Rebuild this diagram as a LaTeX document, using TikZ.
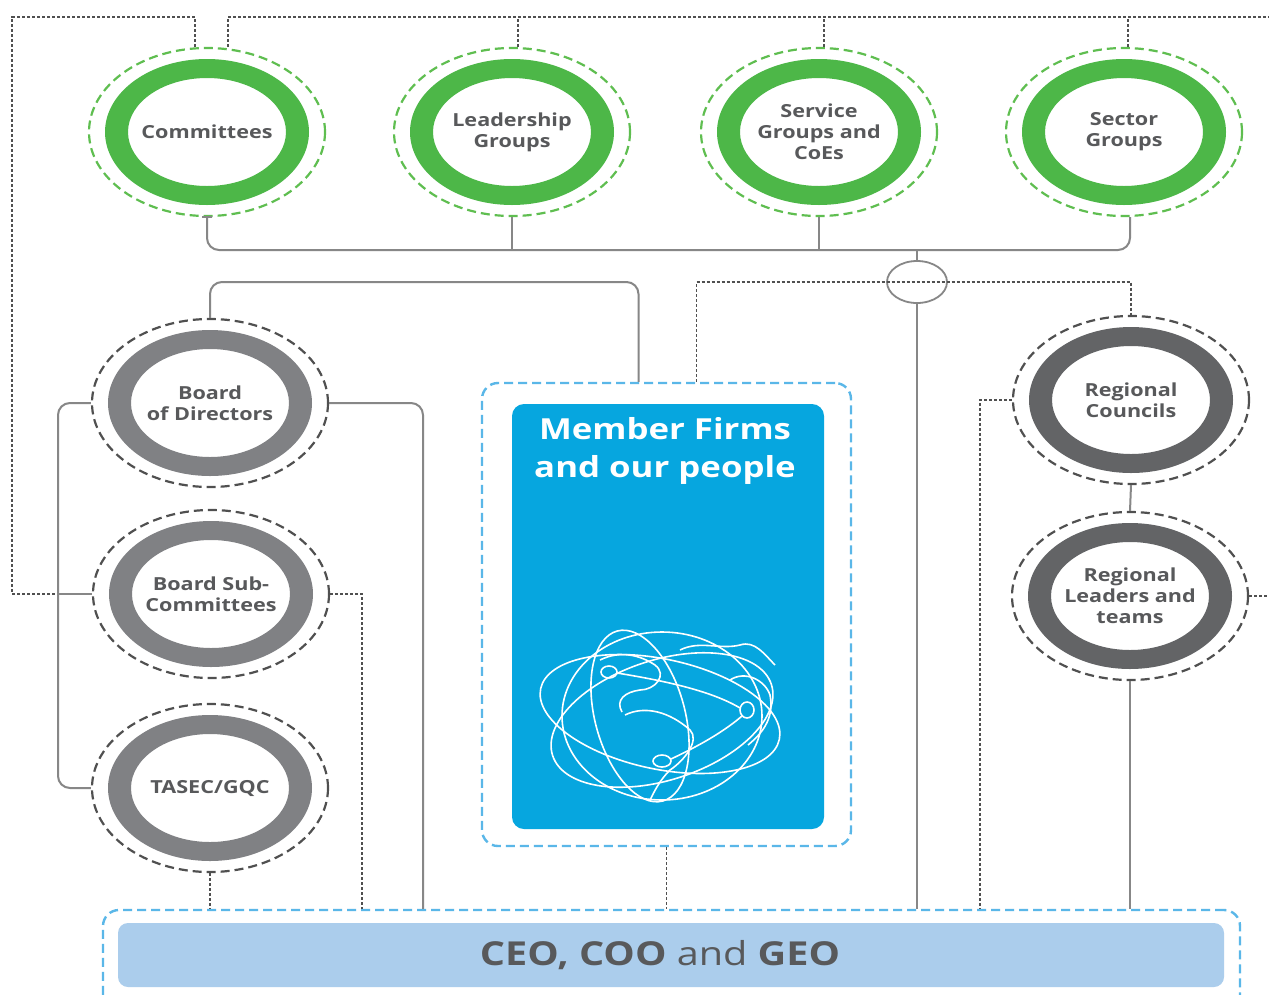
\documentclass[tikz,border=0pt]{standalone}
\usepackage{fontspec}
\setmainfont{Open Sans}[FakeStretch=1.2]
\usetikzlibrary{shapes.geometric,calc}
\definecolor{ringgreen}{RGB}{77,183,72}
\definecolor{dashgreen}{RGB}{95,190,80}
\definecolor{boardgray}{RGB}{128,129,132}
\definecolor{reggray}{RGB}{99,100,102}
\definecolor{txtgray}{RGB}{88,89,91}
\definecolor{linegray}{RGB}{135,135,135}
\definecolor{dashgray}{RGB}{80,80,80}
\definecolor{mfblue}{RGB}{6,166,223}
\definecolor{boxdash}{RGB}{90,183,232}
\definecolor{ceoblue}{RGB}{171,205,236}
\newcommand{\ringnode}[6]{%
  \fill[#4,even odd rule] (#2,#3) ellipse [x radius=102pt,y radius=73pt] (#2,#3) ellipse [x radius=79pt,y radius=54pt];
  \node[outerring,draw=#5] (#1) at (#2,#3) {};
  \node[ringlabel] (#1-t) at (#2,#3) {#6};
}
\begin{document}
\begin{tikzpicture}[x=1pt,y=-1pt,
  conn/.style={draw=linegray,line width=2pt},
  thindash/.style={draw=dashgray,line width=1.6pt,dash pattern=on 3pt off 2pt},
  outerring/.style={ellipse,minimum width=236pt,minimum height=168pt,inner sep=0pt,line width=2.2pt,dash pattern=on 9pt off 5pt},
  ringlabel/.style={text=txtgray,font=\fontsize{18}{21}\selectfont\bfseries,align=center,inner sep=0pt},
  bluedash/.style={draw=boxdash,line width=2.4pt,dash pattern=on 9pt off 5pt,rounded corners=16pt,rectangle,inner sep=0pt},
  globe/.style={draw=white,line width=1.6pt}
]
\useasboundingbox (0,0) rectangle (1269,994);
\fill[white] (0,0) rectangle (1269,994);

% rings
\ringnode{comm}{207}{132}{ringgreen}{dashgreen}{Committees}
\ringnode{lead}{512}{132}{ringgreen}{dashgreen}{Leadership\\Groups}
\ringnode{serv}{819}{132}{ringgreen}{dashgreen}{Service\\Groups and\\CoEs}
\ringnode{sect}{1124}{132}{ringgreen}{dashgreen}{Sector\\Groups}
\ringnode{bod}{210}{403}{boardgray}{dashgray}{Board\\of Directors}
\ringnode{bsub}{211}{594}{boardgray}{dashgray}{Board Sub-\\Committees}
\ringnode{tasec}{210}{788}{boardgray}{dashgray}{TASEC/GQC}
\ringnode{regc}{1131}{400}{reggray}{dashgray}{Regional\\Councils}
\ringnode{regl}{1130}{596}{reggray}{dashgray}{Regional\\Leaders and\\teams}

% member firms
\node[bluedash,minimum width=369pt,minimum height=463pt] (mfo) at (666.5,614.5) {};
\node[fill=mfblue,rounded corners=12pt,minimum width=312pt,minimum height=425pt,inner sep=0pt] (mfi) at (668,616.5) {};
\node[text=white,font=\fontsize{29}{38}\selectfont\bfseries,align=center] (mft) at (665,451) {Member Firms\\and our people};

% globe
\begin{scope}[globe]
 \draw (662,716) ellipse [x radius=100pt,y radius=84pt];
 \draw[rotate around={-12:(660,714)}] (660,714) ellipse [x radius=122pt,y radius=55pt];
 \draw[rotate around={18:(662,720)}] (662,720) ellipse [x radius=115pt,y radius=60pt];
 \draw[rotate around={15:(640,716)}] (640,716) ellipse [x radius=45pt,y radius=88pt];
 \draw (609,672) ellipse [x radius=8pt,y radius=6pt];
 \draw (747,710) ellipse [x radius=7pt,y radius=8pt];
 \draw (662,761) ellipse [x radius=9pt,y radius=6pt];
 \draw (617,673) .. controls (660,680) and (710,690) .. (740,708);
 \draw (742,716) .. controls (720,735) and (690,750) .. (671,759);
 \draw (600,660) .. controls (620,650) and (640,655) .. (655,665) .. controls (668,675) and (655,690) .. (640,690) .. controls (625,692) and (615,700) .. (622,712);
 \draw (625,715) .. controls (645,705) and (670,712) .. (690,730) .. controls (700,740) and (685,760) .. (670,770) .. controls (660,780) and (655,790) .. (650,800);
 \draw (730,680) .. controls (745,670) and (765,680) .. (770,695) .. controls (775,720) and (760,735) .. (748,745);
 \draw (680,650) .. controls (700,640) and (720,650) .. (740,645) .. controls (755,640) and (765,655) .. (775,665);
\end{scope}

% CEO box
\node[bluedash,minimum width=1137pt,minimum height=110pt] (ceoo) at (671.5,965) {};
\node[fill=ceoblue,rounded corners=10pt,minimum width=1106pt,minimum height=64pt,inner sep=0pt] (ceoi) at (671,955) {};
\node[text=txtgray,font=\fontsize{33}{40}\selectfont] (ceot) at (660,955) {\textbf{CEO, COO} and \textbf{GEO}};

% hub
\node[ellipse,draw=linegray,line width=1.8pt,minimum width=60pt,minimum height=42pt,inner sep=0pt] (hub) at (917,282) {};

% coordinates
\coordinate (topL) at (12,17);
\coordinate (topR) at (1269,17);
\coordinate (busY) at (0,250);
\coordinate (lbus) at (58,0);
\coordinate (xa) at (362,0);
\coordinate (xb) at (423,0);
\coordinate (xc) at (980,0);
\coordinate (edgeR) at (1269,596);
\coordinate (mfl) at ([xshift=-28pt]mfo.north);
\coordinate (mfr) at ([xshift=30pt]mfo.north);
\coordinate (cl) at ([xshift=-12pt]comm.north);
\coordinate (cr) at ([xshift=21pt]comm.north);
\coordinate (ld) at ([xshift=6pt]lead.north);
\coordinate (sd) at ([xshift=5pt]serv.north);
\coordinate (td) at ([xshift=4pt]sect.north);
\coordinate (tb) at ([xshift=6pt]sect.south);

% top dashed
\draw[thindash] (cl) |- (topL) |- (lbus |- bsub);
\draw[thindash] (cr) |- (topR);
\draw[thindash] (ld) -- (ld |- topR);
\draw[thindash] (sd) -- (sd |- topR);
\draw[thindash] (td) -- (td |- topR);

% solid bus
\draw[conn,rounded corners=12pt] (comm.south) -- (comm.south |- busY) -- (tb |- busY) -- (tb);
\draw[conn] ([xshift=-5pt]comm.south) -- ([xshift=5pt]comm.south);
\draw[conn] (lead.south) -- (lead.south |- busY);
\draw[conn] (serv.south) -- (serv.south |- busY);
\draw[conn] (hub.north) -- (hub.north |- busY);
\draw[conn] (hub.south) -- (hub.south |- ceoo.north);

% middle dashed
\draw[thindash] (mfr) |- (hub.center) -| (regc.north);
\draw[conn,rounded corners=12pt] (bod.north) |- (mfl |- hub) -- (mfl);

% left side
\draw[conn,rounded corners=12pt] (bod.west) -| (lbus |- tasec) -- (tasec.west);
\draw[conn] (lbus |- bsub) -- (bsub.west);
\draw[conn,rounded corners=12pt] (bod.east) -| (xb |- ceoo.north);
\draw[thindash] (bsub.east) -| (xa |- ceoo.north);
\draw[thindash] (tasec.south) -- (tasec.south |- ceoo.north);
\draw[thindash] (mfo.south) -- (mfo.south |- ceoo.north);

% right side
\draw[thindash] (regc.west) -| (xc |- ceoo.north);
\draw[conn] (regc.south) -- (regl.north);
\draw[conn] (regl.south) -- (regl.south |- ceoo.north);
\draw[thindash] (regl.east) -- (edgeR);
\end{tikzpicture}
\end{document}
